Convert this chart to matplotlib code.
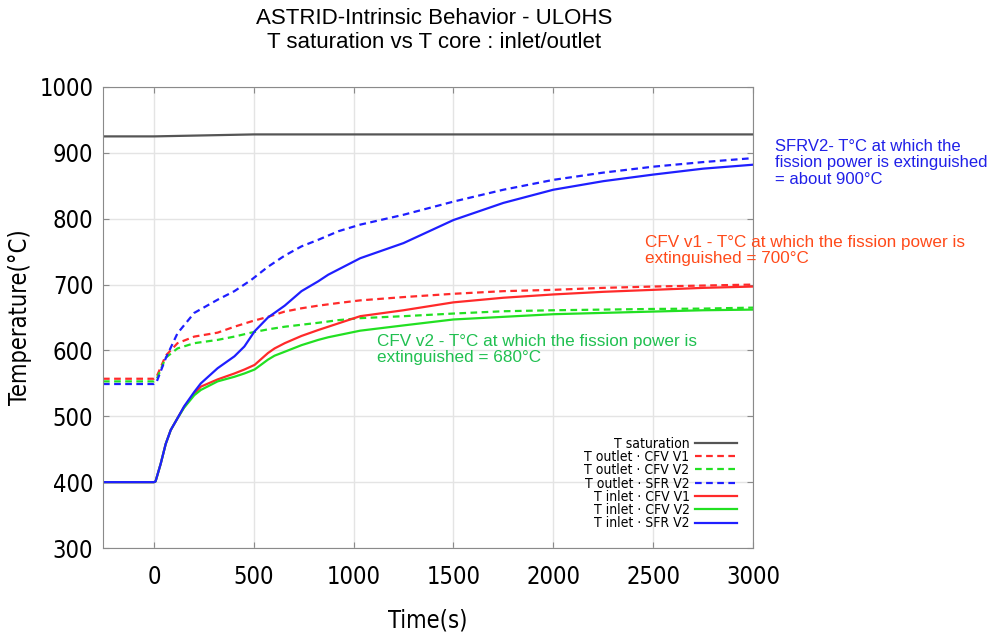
import matplotlib
matplotlib.use("Agg")
import matplotlib.pyplot as plt

# ---- data ----
t_sat = [-255, 0, 250, 500, 3000]
sat = [925, 925, 926.5, 928, 928]

t_out = [-255, 0, 12, 59, 118, 202, 319, 403, 487, 571, 655, 739, 823, 924, 1033,
         1250, 1500, 1750, 2000, 2250, 2500, 2750, 3000]
out_v1 = [557, 557, 559, 592, 611, 621, 627, 636, 644, 651, 659, 664, 668, 672, 676,
          681, 686, 690, 692, 695, 697, 698.5, 700]
out_v2 = [553, 553, 555, 589, 603, 611, 616, 621, 627, 632, 636, 639, 642, 646, 649,
          652, 656, 659.5, 661, 662, 663, 663.5, 665]
out_sfr = [549, 549, 551, 588, 626, 657, 677, 690, 707, 727, 744, 758, 768, 781, 791,
           806, 826, 844, 859, 870, 879, 886, 892]

t_in = [-255, 0, 8, 34, 59, 84, 118, 151, 202, 235, 319, 403, 453, 504, 571, 604, 655,
        739, 823, 873, 1033, 1250, 1500, 1750, 2000, 2250, 2500, 2750, 3000]
in_v1 = [400, 400, 401, 428, 458, 479, 497, 514, 534, 545, 556, 565, 571, 578, 596, 603, 611,
         622, 631, 636, 652, 661, 673, 680, 685, 689, 692, 695, 697]
in_v2 = [400, 400, 401, 428, 458, 479, 497, 513, 532, 540, 553, 560, 565, 571, 586, 592, 598,
         608, 616, 620, 630, 638, 647, 651, 655, 657, 659, 661, 662]
in_sfr = [400, 400, 401, 428, 458, 479, 497, 515, 537, 550, 573, 591, 606, 629, 650, 657, 668,
          690, 705, 715, 740, 763, 798, 824, 844, 857, 867, 876, 882]

xticks = [0, 500, 1000, 1500, 2000, 2500, 3000]
yticks = [300, 400, 500, 600, 700, 800, 900, 1000]

labels = ["T saturation", "T outlet · CFV V1", "T outlet · CFV V2", "T outlet · SFR V2",
          "T inlet · CFV V1", "T inlet · CFV V2", "T inlet · SFR V2"]

sans = ["Liberation Sans", "DejaVu Sans"]

RED, GREEN, BLUE, GRAY = "#ff2a2a", "#22e022", "#1f1fff", "#555555"

fig = plt.figure(figsize=(9.94, 6.33), dpi=100)
ax = fig.add_axes([103/994, 1-548/633, (753-103)/994, (548-87)/633])

dash = (0, (3, 2))
lw = 1.6
ax.plot(t_sat, sat, color=GRAY, lw=lw, label=labels[0])
ax.plot(t_out, out_v1, color=RED, lw=lw, ls=dash, label=labels[1])
ax.plot(t_out, out_v2, color=GREEN, lw=lw, ls=dash, label=labels[2])
ax.plot(t_out, out_sfr, color=BLUE, lw=lw, ls=dash, label=labels[3])
ax.plot(t_in, in_v1, color=RED, lw=lw, label=labels[4])
ax.plot(t_in, in_v2, color=GREEN, lw=lw, label=labels[5])
ax.plot(t_in, in_sfr, color=BLUE, lw=lw, label=labels[6])

ax.set_xlim(-255, 3000)
ax.set_ylim(300, 1000)
ax.set_xticks(xticks)
ax.set_yticks(yticks)
ax.grid(True, color="#e4e4e4", lw=1.0)
ax.set_axisbelow(True)
for s in ax.spines.values():
    s.set_color("#8a8a8a")
ax.tick_params(direction="in", top=True, right=True, colors="#8a8a8a", length=4,
               labelcolor="black", labelsize=17)
ax.tick_params(axis="x", pad=12)
ax.tick_params(axis="y", pad=7)
for lab in ax.get_xticklabels() + ax.get_yticklabels():
    lab.set_family("DejaVu Sans")
    lab.set_stretch("condensed")

ax.set_xlabel("Time(s)", fontsize=17, family="DejaVu Sans", stretch="condensed", labelpad=14)
ax.set_ylabel("Temperature(°C)", fontsize=17, family="DejaVu Sans", stretch="condensed")
ax.yaxis.set_label_coords(-0.11, 0.5)

fig.text(0.437, 1-18/633, "ASTRID-Intrinsic Behavior - ULOHS", ha="center", va="center",
         fontsize=16, family=sans)
fig.text(0.437, 1-42/633, "T saturation vs T core : inlet/outlet", ha="center", va="center",
         fontsize=16, family=sans)

leg = ax.legend(loc="lower right", bbox_to_anchor=(0.99, 0.017), frameon=False,
                markerfirst=False, prop={"family": "DejaVu Sans", "stretch": "condensed", "size": 10},
                labelspacing=-0.05, handlelength=3.0, handletextpad=0.4, borderpad=0.2)

fig.text(775/994, 1-139/633, "SFRV2- T°C at which the\nfission power is extinguished\n= about 900°C",
         ha="left", va="top", fontsize=12.0, color="#2020e8", family=sans, linespacing=1.12)
fig.text(645/994, 1-235/633, "CFV v1 - T°C at which the fission power is\nextinguished = 700°C",
         ha="left", va="top", fontsize=12.3, color="#ff4a1a", family=sans, linespacing=1.1)
fig.text(377/994, 1-334/633, "CFV v2 - T°C at which the fission power is\nextinguished = 680°C",
         ha="left", va="top", fontsize=12.3, color="#20c050", family=sans, linespacing=1.1)

fig.savefig("out.png", dpi=100)
